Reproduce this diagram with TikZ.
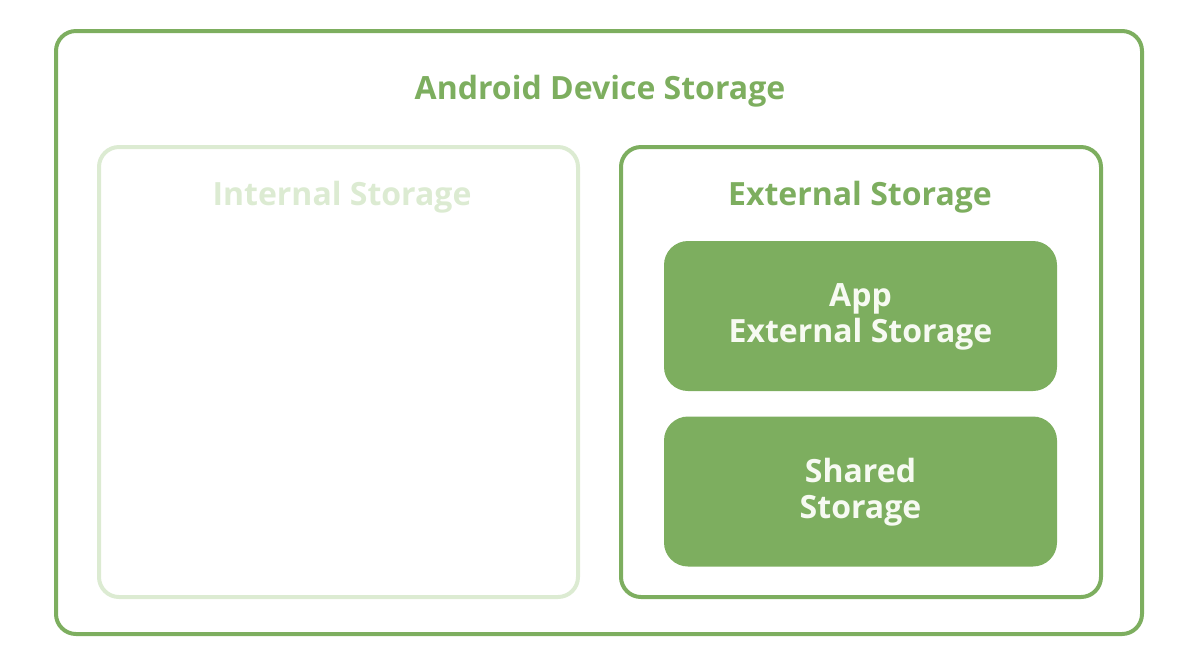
\documentclass[tikz,border=0pt]{standalone}
\usepackage{fontspec}
\setmainfont{Open Sans}
\usepackage{tikz}
\usetikzlibrary{calc}
\definecolor{andgreen}{HTML}{7DAE5F}
\definecolor{palegreen}{HTML}{DCEBD2}
\definecolor{offwhite}{HTML}{F7FAF2}
\tikzset{
  storebox/.style={draw=andgreen,line width=2pt,rounded corners=10pt,inner sep=0pt},
  fillbox/.style={fill=andgreen,rounded corners=12pt,inner sep=0pt,minimum width=196.5pt,minimum height=75pt},
  boxtitle/.style={font=\bfseries\fontsize{16}{18}\selectfont,text=andgreen},
  boxtext/.style={font=\bfseries\fontsize{16}{18}\selectfont,text=offwhite,align=center}
}
\begin{document}
\begin{tikzpicture}[line cap=round,line join=round,x=0.5pt,y=-0.5pt]
\useasboundingbox (0,0) rectangle (1200,666);
\node[storebox,minimum width=543pt,minimum height=301.5pt] (device) at (599,332.5) {};
\node[storebox,draw=palegreen,minimum width=239.5pt,minimum height=225pt] (internal) at (338.5,372) {};
\node[storebox,minimum width=240pt,minimum height=225pt] (external) at (861,372) {};
\node[fillbox] (appext) at (860.5,316) {};
\node[fillbox] (shared) at (860.5,491.5) {};
\node[boxtitle] (devicelabel) at (600,91) {Android Device Storage};
\node[boxtitle,text=palegreen] (internallabel) at (342,197) {Internal Storage};
\node[boxtitle] (externallabel) at (860,197) {External Storage};
\node[boxtext] at ($(appext)+(0,1)$) {App\\External Storage};
\node[boxtext] at ($(shared)+(0,1)$) {Shared\\Storage};
\end{tikzpicture}
\end{document}
